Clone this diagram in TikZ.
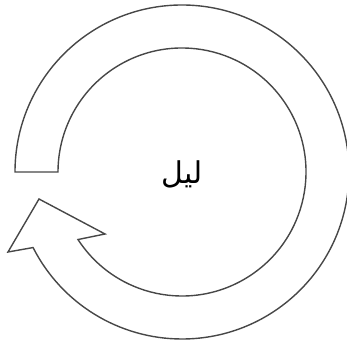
\documentclass[tikz,border=0pt]{standalone}
\usepackage{fontspec}
\usetikzlibrary{calc}
\newfontfamily\arabicfont[Script=Arabic]{DejaVu Sans}
\TeXXeTstate=1
\tikzset{ring/.style={draw=black!72, line width=1.4pt, line join=miter, fill=white},
  lbl/.style={font=\arabicfont\fontsize{30}{34}\selectfont, text=black}}
\begin{document}
\begin{tikzpicture}[x=1pt,y=1pt]
\useasboundingbox (0,0) rectangle (347,344);
\coordinate (c) at (182,172);
\coordinate (ob) at (8,92);
\coordinate (tip) at (39,145);
\coordinate (ib) at (105,110);
\draw[ring] ($(c)+(180:167)$) arc[start angle=180, end angle=-153.1, radius=167]
  -- (ob) -- (tip) -- (ib) -- ($(c)+(-147:124)$)
  arc[start angle=-147, end angle=180, radius=124] -- cycle;
\node[lbl] (t) at (182,170) {\beginR ليل\endR};
\end{tikzpicture}
\end{document}
